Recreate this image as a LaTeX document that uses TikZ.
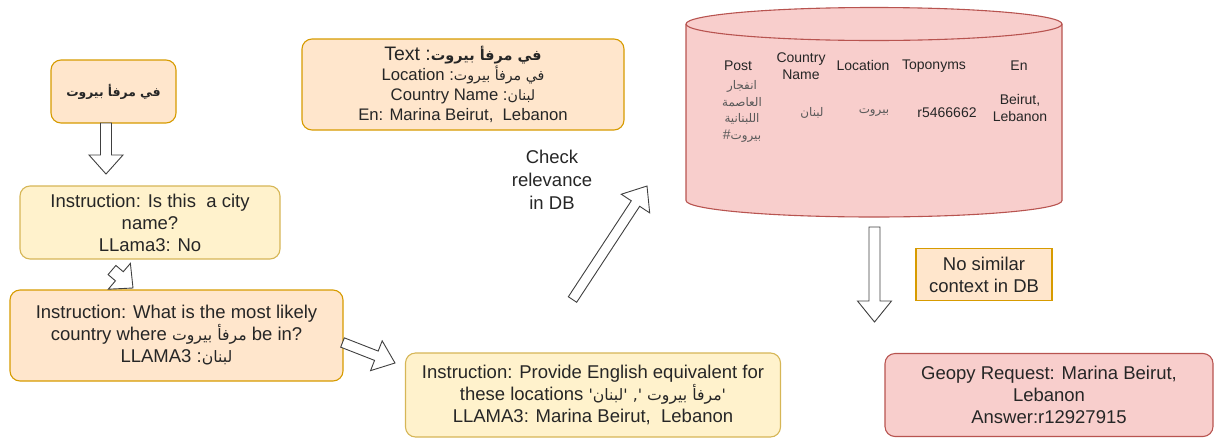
\documentclass[tikz,border=0pt]{standalone}
\usepackage{fontspec}
\setmainfont{Liberation Sans}
\newfontfamily\arabicfont[Script=Arabic,Scale=0.85]{DejaVu Sans}
\TeXXeTstate=1
\usetikzlibrary{calc,positioning}

\definecolor{peachfill}{HTML}{FFE6CC}
\definecolor{peachline}{HTML}{D79B00}
\definecolor{yellowfill}{HTML}{FFF2CC}
\definecolor{yellowline}{HTML}{D6B656}
\definecolor{redfill}{HTML}{F8CECC}
\definecolor{redline}{HTML}{B85450}
\definecolor{textgray}{HTML}{262626}

\newcommand{\arab}[1]{{\arabicfont\beginR #1\endR}}
\newcommand{\boxfont}{\fontsize{18.5}{22}\selectfont}
\newcommand{\smallboxfont}{\fontsize{16.7}{20}\selectfont}
\newcommand{\cellfont}{\fontsize{14}{17}\selectfont}

% block arrow: tail, tip, half shaft, half head, head length
\newcommand{\fatarrow}[5]{%
  \coordinate (hb) at ($(#2)!#5!(#1)$);
  \draw[fat arrow] ($(#1)!#3!90:(#2)$) -- ($(hb)!#3!90:(#2)$) -- ($(hb)!#4!90:(#2)$)
    -- (#2) -- ($(hb)!#4!-90:(#2)$) -- ($(hb)!#3!-90:(#2)$) -- ($(#1)!#3!-90:(#2)$) -- cycle;
}

\begin{document}
\begin{tikzpicture}[x=1pt, y=-1pt,
  peachbox/.style={draw=peachline, fill=peachfill, line width=1.1pt, rounded corners=10pt,
    align=center, text=textgray, inner sep=0pt, font=\boxfont},
  yellowbox/.style={peachbox, draw=yellowline, fill=yellowfill},
  redbox/.style={peachbox, draw=redline, fill=redfill},
  fat arrow/.style={draw=black!75, fill=white, line width=0.9pt, line join=miter},
  cell/.style={font=\cellfont, text=textgray, align=center, inner sep=0pt},
  plain label/.style={font=\fontsize{18.5}{23}\selectfont, text=textgray, align=center, inner sep=0pt}
]
  \useasboundingbox (0,0) rectangle (1215,437);

  % left column
  \node[peachbox, minimum width=125, minimum height=63, font=\fontsize{14.5}{18}\selectfont] (seed) at (113.5,91.5)
    {\textbf{\arab{في مرفأ بيروت}}};
  \node[yellowbox, minimum width=260, minimum height=73] (cityq) at (150,222.5)
    {Instruction: Is this\ \ a city\\name?\\LLama3: No};
  \node[peachbox, minimum width=333, minimum height=91] (countryq) at (176.5,335.5)
    {Instruction: What is the most likely\\country where \arab{مرفأ بيروت} be in?\\LLAMA3 :\arab{لبنان}};

  % middle
  \node[peachbox, minimum width=322, minimum height=91, font=\smallboxfont] (record) at (463,84.5)
    {{\fontsize{19.5}{21}\selectfont Text :{\fontsize{17}{21}\selectfont\textbf{\arab{في مرفأ بيروت}}}}\\
     Location :\arab{في مرفأ بيروت}\\Country Name :\arab{لبنان}\\En: Marina Beirut,\ \ Lebanon};
  \node[yellowbox, minimum width=375, minimum height=84] (englishq) at (593,395)
    {Instruction: Provide English equivalent for\\
     these locations \arab{\textquotesingle مرفأ بيروت \textquotesingle, \textquotesingle لبنان\textquotesingle}\\
     LLAMA3: Marina Beirut,\ \ Lebanon};
  \node[plain label] (checklbl) at (552,180) {Check\\relevance\\in DB};

  % database cylinder
  \draw[draw=redline, fill=redfill, line width=1.1pt] (686,24) -- (686,200.5)
    arc[start angle=180, end angle=0, x radius=188, y radius=16.5] -- (1062,24)
    arc[start angle=0, end angle=-180, x radius=188, y radius=16.5] -- cycle;
  \draw[draw=redline, line width=1.1pt] (686,24)
    arc[start angle=180, end angle=0, x radius=188, y radius=16.5];
  \node[cell] (hpost) at (738,65.7) {Post};
  \node[cell] (hcountry) at (801,66.5) {Country\\Name};
  \node[cell] (hloc) at (863,65.7) {Location};
  \node[cell] (htopo) at (934,65.7) {Toponyms};
  \node[cell] (hen) at (1019,65.7) {En};
  \node[cell, font=\fontsize{14}{16.7}\selectfont, text=black!65] (vpost) at (742,111.5)
    {\arab{انفجار}\\\arab{العاصمة}\\\arab{اللبنانية}\\\#\arab{بيروت}};
  \node[cell, text=black!65] (vcountry) at (812,113) {\arab{لبنان}};
  \node[cell, text=black!65] (vloc) at (874,113) {\arab{بيروت}};
  \node[cell] (vtopo) at (947,113) {r5466662};
  \node[cell] (ven) at (1020,108) {Beirut,\\Lebanon};

  % right column
  \node[peachbox, rounded corners=0pt, minimum width=136, minimum height=52] (nomatch) at (984,274.5)
    {No similar\\context in DB};
  \node[redbox, minimum width=328, minimum height=83] (geopy) at (1049,395)
    {Geopy Request: Marina Beirut,\\Lebanon\\Answer:r12927915};

  % arrow ends
  \coordinate (seedtail) at (106,123);
  \coordinate (seedtip) at (106,174);
  \coordinate (citytail) at (112,270);
  \coordinate (citytip) at (133,288);
  \coordinate (countrytail) at (342.5,342.5);
  \coordinate (countrytip) at (395,363);
  \coordinate (dbtail) at (572.5,299.5);
  \coordinate (dbtip) at (647,186);
  \coordinate (geotail) at (874.5,227);
  \coordinate (geotip) at (874.5,322);

  \fatarrow{seedtail}{seedtip}{5.5pt}{17pt}{19pt}
  \fatarrow{citytail}{citytip}{6pt}{17pt}{18pt}
  \fatarrow{countrytail}{countrytip}{5pt}{16pt}{20pt}
  \fatarrow{dbtail}{dbtip}{5pt}{17pt}{21pt}
  \fatarrow{geotail}{geotip}{5.5pt}{17pt}{21pt}
\end{tikzpicture}
\end{document}
